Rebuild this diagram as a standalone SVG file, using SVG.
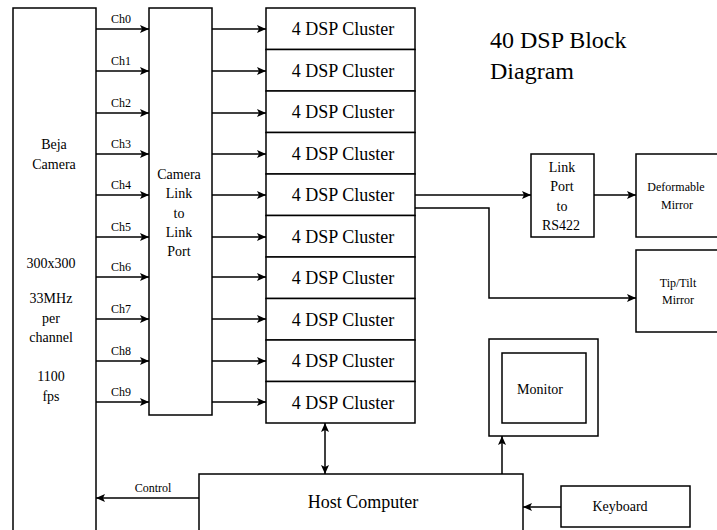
<svg xmlns="http://www.w3.org/2000/svg" width="717" height="530" viewBox="0 0 717 530">
<style>
.box{fill:#fff;stroke:#000;stroke-width:1.5}
.ln{fill:none;stroke:#000;stroke-width:1.5}
text{font-family:"Liberation Serif","Times New Roman",serif;fill:#000;text-anchor:middle}
.t12{font-size:12px}
.t14{font-size:14px}
.t18{font-size:18px}
.t24{font-size:24px;text-anchor:start}
</style>
<defs>
<marker id="ah" markerUnits="userSpaceOnUse" markerWidth="10" markerHeight="8" refX="9" refY="4" orient="auto-start-reverse">
<path d="M0,0 L9,4 L0,8 L2,4 z" fill="#000"/>
</marker>
</defs>
<rect width="717" height="530" fill="#fff"/>
<g id="camera">
<rect class="box" x="13" y="8" width="83" height="530"/>
<text class="t14" x="54" y="149">Beja</text>
<text class="t14" x="54" y="169">Camera</text>
<text class="t14" x="51" y="268">300x300</text>
<text class="t14" x="51" y="303">33MHz</text>
<text class="t14" x="51" y="323">per</text>
<text class="t14" x="51" y="342">channel</text>
<text class="t14" x="51" y="381">1100</text>
<text class="t14" x="51" y="401">fps</text>
</g>
<g id="cameralink">
<rect class="box" x="149" y="8" width="63" height="407"/>
<text class="t14" x="179" y="179">Camera</text>
<text class="t14" x="179" y="198">Link</text>
<text class="t14" x="179" y="218">to</text>
<text class="t14" x="179" y="237">Link</text>
<text class="t14" x="179" y="256">Port</text>
</g>
<g id="dsp0"><rect class="box" x="266" y="8" width="149" height="41.5"/><text class="t18" x="343" y="35">4 DSP Cluster</text></g>
<g id="dsp1"><rect class="box" x="266" y="49.5" width="149" height="41.5"/><text class="t18" x="343" y="77">4 DSP Cluster</text></g>
<g id="dsp2"><rect class="box" x="266" y="91" width="149" height="41.5"/><text class="t18" x="343" y="118">4 DSP Cluster</text></g>
<g id="dsp3"><rect class="box" x="266" y="132.5" width="149" height="41.5"/><text class="t18" x="343" y="160">4 DSP Cluster</text></g>
<g id="dsp4"><rect class="box" x="266" y="174" width="149" height="41.5"/><text class="t18" x="343" y="201">4 DSP Cluster</text></g>
<g id="dsp5"><rect class="box" x="266" y="215.5" width="149" height="41.5"/><text class="t18" x="343" y="243">4 DSP Cluster</text></g>
<g id="dsp6"><rect class="box" x="266" y="257" width="149" height="41.5"/><text class="t18" x="343" y="284">4 DSP Cluster</text></g>
<g id="dsp7"><rect class="box" x="266" y="298.5" width="149" height="41.5"/><text class="t18" x="343" y="326">4 DSP Cluster</text></g>
<g id="dsp8"><rect class="box" x="266" y="340" width="149" height="41.5"/><text class="t18" x="343" y="367">4 DSP Cluster</text></g>
<g id="dsp9"><rect class="box" x="266" y="381.5" width="149" height="41.5"/><text class="t18" x="343" y="409">4 DSP Cluster</text></g>
<g id="title">
<text class="t24" x="490" y="48">40 DSP Block</text>
<text class="t24" x="490" y="79">Diagram</text>
</g>
<g id="linkport">
<rect class="box" x="531" y="154" width="63" height="83"/>
<text class="t14" x="562" y="172">Link</text>
<text class="t14" x="562" y="191">Port</text>
<text class="t14" x="562" y="211">to</text>
<text class="t14" x="561" y="230">RS422</text>
</g>
<g id="deformable">
<rect class="box" x="636" y="154" width="90" height="83"/>
<text class="t12" x="676" y="191">Deformable</text>
<text class="t12" x="677" y="209">Mirror</text>
</g>
<g id="tiptilt">
<rect class="box" x="636" y="250" width="90" height="82"/>
<text class="t12" x="678" y="287">Tip/Tilt</text>
<text class="t12" x="678" y="304">Mirror</text>
</g>
<g id="monitor">
<rect class="box" x="489" y="339" width="109" height="97"/>
<rect class="box" x="502" y="353" width="84" height="70"/>
<text class="t14" x="540" y="394">Monitor</text>
</g>
<g id="host">
<rect class="box" x="199" y="474" width="324" height="70"/>
<text class="t18" x="363" y="508">Host Computer</text>
</g>
<g id="keyboard">
<rect class="box" x="561" y="486" width="129" height="41"/>
<text class="t14" x="620" y="511">Keyboard</text>
</g>
<g id="connectors">
<text class="t12" x="121" y="23">Ch0</text>
<text class="t12" x="121" y="65">Ch1</text>
<text class="t12" x="121" y="107">Ch2</text>
<text class="t12" x="121" y="148">Ch3</text>
<text class="t12" x="121" y="189">Ch4</text>
<text class="t12" x="121" y="231">Ch5</text>
<text class="t12" x="121" y="271">Ch6</text>
<text class="t12" x="121" y="313">Ch7</text>
<text class="t12" x="121" y="355">Ch8</text>
<text class="t12" x="121" y="396">Ch9</text>
<text class="t12" x="153" y="492">Control</text>
<path class="ln" marker-end="url(#ah)" d="M96,29H149"/>
<path class="ln" marker-end="url(#ah)" d="M96,71H149"/>
<path class="ln" marker-end="url(#ah)" d="M96,113H149"/>
<path class="ln" marker-end="url(#ah)" d="M96,154H149"/>
<path class="ln" marker-end="url(#ah)" d="M96,195H149"/>
<path class="ln" marker-end="url(#ah)" d="M96,237H149"/>
<path class="ln" marker-end="url(#ah)" d="M96,277H149"/>
<path class="ln" marker-end="url(#ah)" d="M96,319H149"/>
<path class="ln" marker-end="url(#ah)" d="M96,361H149"/>
<path class="ln" marker-end="url(#ah)" d="M96,402H149"/>
<path class="ln" marker-end="url(#ah)" d="M212,29H266"/>
<path class="ln" marker-end="url(#ah)" d="M212,71H266"/>
<path class="ln" marker-end="url(#ah)" d="M212,113H266"/>
<path class="ln" marker-end="url(#ah)" d="M212,154H266"/>
<path class="ln" marker-end="url(#ah)" d="M212,195H266"/>
<path class="ln" marker-end="url(#ah)" d="M212,237H266"/>
<path class="ln" marker-end="url(#ah)" d="M212,277H266"/>
<path class="ln" marker-end="url(#ah)" d="M212,319H266"/>
<path class="ln" marker-end="url(#ah)" d="M212,361H266"/>
<path class="ln" marker-end="url(#ah)" d="M212,402H266"/>
<path class="ln" marker-end="url(#ah)" d="M415,195H531"/>
<path class="ln" marker-end="url(#ah)" d="M594,195H636"/>
<path class="ln" marker-end="url(#ah)" d="M415,208H489V298H636"/>
<path class="ln" marker-start="url(#ah)" marker-end="url(#ah)" d="M325,423V474"/>
<path class="ln" marker-end="url(#ah)" d="M502,474V436"/>
<path class="ln" marker-end="url(#ah)" d="M561,507H523"/>
<path class="ln" marker-end="url(#ah)" d="M199,498H96"/>
</g>
</svg>
